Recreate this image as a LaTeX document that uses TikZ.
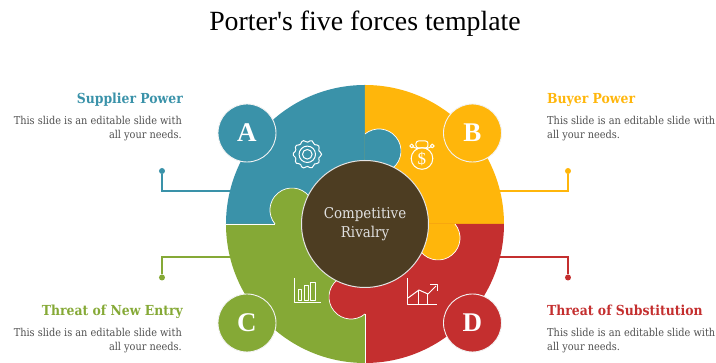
\documentclass[tikz,border=0pt]{standalone}
\usepackage{fontspec}
\setmainfont{Liberation Serif}
\newfontfamily\ttlfont{Liberation Serif}
\newfontfamily\slabfont{DejaVu Serif Condensed}
\definecolor{cblue}{HTML}{3A92A9}
\definecolor{cyellow}{HTML}{FFB60B}
\definecolor{cgreen}{HTML}{85A936}
\definecolor{cred}{HTML}{C42F2F}
\definecolor{cbrown}{HTML}{4D3D22}
\definecolor{cbody}{HTML}{505050}
\tikzset{
  edge/.style={white,line width=0.7pt},
  badge/.style={circle,draw=white!90!gray,line width=0.9pt,minimum size=58pt,inner sep=0pt,text=white,font=\fontsize{27}{27}\selectfont\bfseries},
  hub/.style={circle,draw=white!80!gray,fill=cbrown,line width=1pt,minimum size=127pt,inner sep=0pt,align=center,text=white!88!black,font=\slabfont\fontsize{14.9}{19}\selectfont},
  head/.style={inner sep=0pt,font=\slabfont\fontsize{13.8}{14}\selectfont\bfseries},
  bodyr/.style={inner sep=0pt,align=right,text=cbody,font=\slabfont\fontsize{10.85}{14.5}\selectfont},
  bodyl/.style={inner sep=0pt,align=left,text=cbody,font=\slabfont\fontsize{10.85}{14.5}\selectfont},
  wire/.style={line width=1.3pt},
  pin/.style={circle,inner sep=0pt,minimum size=6pt},
  ico/.style={white,line width=1pt,line join=round}
}
\newcommand{\quadpiece}[2]{%
  \fill[#1,rotate=#2] (-139,0) arc (180:90:139) -- (0,0) -- cycle;
  \draw[edge,rotate=#2] (0,139) -- (0,90);
}
\newcommand{\knobpiece}[2]{%
  \fill[#1,rotate=#2] (0,90) arc (129.5:-90:22) -- (0,51) -- cycle;
  \draw[edge,rotate=#2] (0,90) arc (129.5:-90:22);
}
\begin{document}
\begin{tikzpicture}[x=1pt,y=1pt]
\useasboundingbox (-365,-139) rectangle (351,224);
% connectors
\node[pin,fill=cblue] (pa) at (-203,53) {};
\node[pin,fill=cyellow] (pb) at (203,53) {};
\node[pin,fill=cgreen] (pc) at (-203,-53.5) {};
\node[pin,fill=cred] (pd) at (203,-53.5) {};
\coordinate (ea) at (-130,33);
\coordinate (eb) at (130,33);
\coordinate (ec) at (-130,-33);
\coordinate (ed) at (130,-33);
\draw[wire,cblue] (pa) |- (ea);
\draw[wire,cyellow] (pb) |- (eb);
\draw[wire,cgreen] (pc) |- (ec);
\draw[wire,cred] (pd) |- (ed);
% disc
\quadpiece{cblue}{0}
\quadpiece{cyellow}{-90}
\quadpiece{cred}{180}
\quadpiece{cgreen}{90}
\knobpiece{cblue}{0}
\knobpiece{cyellow}{-90}
\knobpiece{cred}{180}
\knobpiece{cgreen}{90}
\node[hub] (hubn) at (0,0) {\raisebox{-2pt}{\begin{tabular}{@{}c@{}}Competitive\\Rivalry\end{tabular}}};
% badges
\node[badge,fill=cblue] (a) at (-118,91) {A};
\node[badge,fill=cyellow] (b) at (107.5,91) {B};
\node[badge,fill=cgreen] (c) at (-118,-99) {C};
\node[badge,fill=cred] (d) at (107.5,-99) {D};
% gear icon
\draw[ico] plot[smooth cycle,samples=41,domain=0:351,variable=\t] ({-57.7+(13.2+1.1*cos(10*\t))*cos(\t)},{69.7+(13.2+1.1*cos(10*\t))*sin(\t)});
\draw[ico] (-57.7,69.7) circle (8.2);
\draw[ico] (-57.7,69.7) circle (4.8);
% money bag icon
\draw[ico] (57,65.5) circle (10.8);
\node[inner sep=0pt,text=white,font=\ttlfont\fontsize{17}{17}\selectfont] (dollar) at (57,65.5) {\$};
\draw[ico,rounded corners=2.5pt] (51,76) rectangle (63,83);
\draw[ico] (46.7,78) circle (1.9);
\draw[ico] (67.3,78) circle (1.9);
\draw[ico] (48.3,77) -- (53,75);
\draw[ico] (65.7,77) -- (61,75);
% bar chart icon
\draw[ico] (-70,-54) -- (-70,-79) -- (-44,-79);
\draw[ico] (-66.7,-66) rectangle (-63,-77);
\draw[ico] (-60.5,-62) rectangle (-56,-77);
\draw[ico] (-54,-58.7) rectangle (-49.5,-77);
% growth chart icon
\draw[ico] (43,-54) -- (43,-81) -- (72,-81);
\draw[ico] (43,-74) -- (54,-66) -- (63,-70) -- (71,-62);
\draw[ico] (54,-66) -- (54,-81);
\draw[ico] (63,-70) -- (63,-81);
\draw[ico] (65.5,-60.5) -- (72.5,-60.5) -- (72.5,-67);
% texts
\node[anchor=base,inner sep=0pt,font=\ttlfont\fontsize{27.8}{25}\selectfont] (title) at (0,193) {Porter's five forces template};
\node[head,anchor=base east,text=cblue] (ha) at (-182,120) {Supplier Power};
\node[bodyr,anchor=north east] (ba) at (-183,108) {This slide is an editable slide with\\all your needs.};
\node[head,anchor=base west,text=cyellow] (hb) at (182,120) {Buyer Power};
\node[bodyl,anchor=north west] (bb) at (182,108) {This slide is an editable slide with\\all your needs.};
\node[head,anchor=base east,text=cgreen] (hc) at (-182,-92) {Threat of New Entry};
\node[bodyr,anchor=north east] (bc) at (-183,-104) {This slide is an editable slide with\\all your needs.};
\node[head,anchor=base west,text=cred] (hd) at (182,-92) {Threat of Substitution};
\node[bodyl,anchor=north west] (bd) at (182,-104) {This slide is an editable slide with\\all your needs.};
\end{tikzpicture}
\end{document}
